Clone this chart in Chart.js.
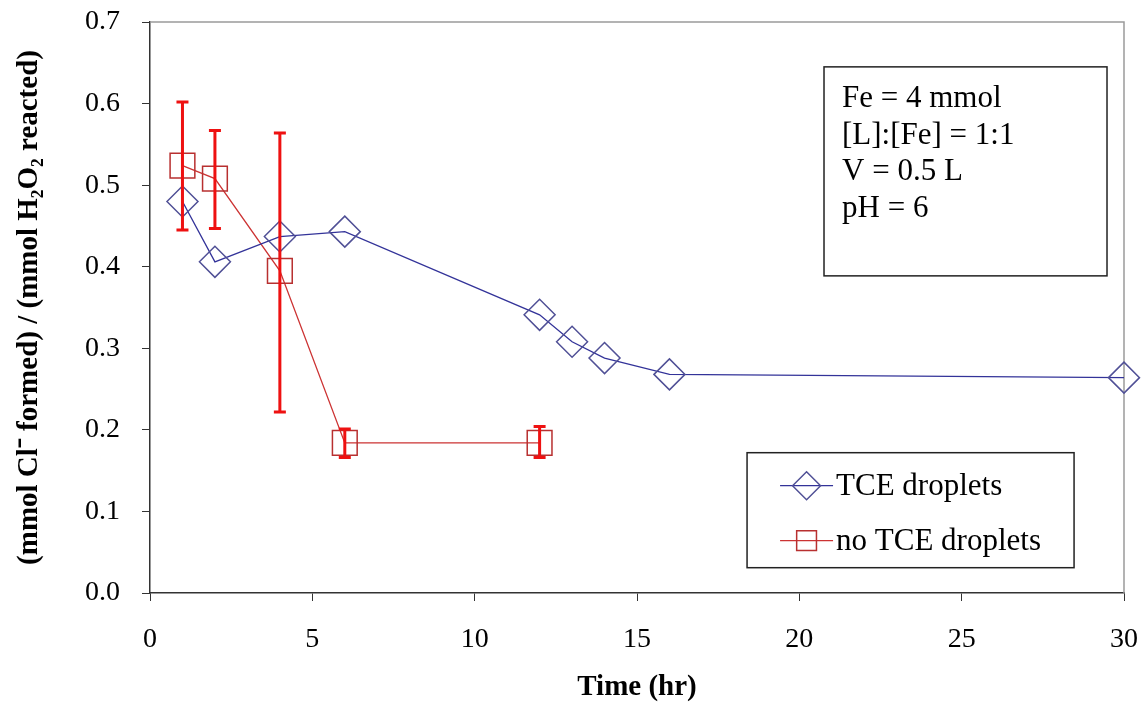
<!DOCTYPE html>
<html>
<head>
<meta charset="utf-8">
<script src="https://cdn.jsdelivr.net/npm/chart.js@4"></script>
<style>
  html, body { margin: 0; padding: 0; background: #fff; }
  #wrap { width: 1143px; height: 709px; }
</style>
</head>
<body>
<div id="wrap"><canvas id="chart" width="1143" height="709"></canvas></div>
<script>
const tceTime = [1, 2, 4, 6, 12, 13, 14, 16, 30];
const tceRatio = [0.480, 0.406, 0.437, 0.443, 0.341, 0.308, 0.288, 0.268, 0.264];

const noTceTime = [1, 2, 4, 6, 12];
const noTceRatio = [0.524, 0.508, 0.395, 0.184, 0.184];
const noTceLow = [0.445, 0.447, 0.222, 0.166, 0.166];
const noTceHigh = [0.602, 0.567, 0.564, 0.201, 0.204];

const seriesLabels = ["TCE droplets", "no TCE droplets"];
const noteLines = ["Fe = 4 mmol", "[L]:[Fe] = 1:1", "V = 0.5 L", "pH = 6"];

const serif = "'Liberation Serif', 'Times New Roman', serif";

function toPoints(xs, ys) {
  return xs.map((x, i) => ({ x: x, y: ys[i] }));
}

// gray frame on top and right of the plot area
const frame = {
  id: "frame",
  beforeDatasetsDraw(chart) {
    const { ctx, chartArea } = chart;
    ctx.save();
    ctx.strokeStyle = "#9a9a9a";
    ctx.lineWidth = 1.5;
    ctx.beginPath();
    ctx.moveTo(chartArea.left, chartArea.top);
    ctx.lineTo(chartArea.right, chartArea.top);
    ctx.lineTo(chartArea.right, chartArea.bottom);
    ctx.stroke();
    ctx.restore();
  },
};

// red error bars for the "no TCE" series
const errorBars = {
  id: "errorBars",
  afterDatasetsDraw(chart) {
    const { ctx, scales } = chart;
    ctx.save();
    ctx.strokeStyle = "#ee1111";
    ctx.lineWidth = 3;
    noTceTime.forEach((t, i) => {
      const x = scales.x.getPixelForValue(t);
      const yLo = scales.y.getPixelForValue(noTceLow[i]);
      const yHi = scales.y.getPixelForValue(noTceHigh[i]);
      ctx.beginPath();
      ctx.moveTo(x, yLo);
      ctx.lineTo(x, yHi);
      ctx.moveTo(x - 6, yLo);
      ctx.lineTo(x + 6, yLo);
      ctx.moveTo(x - 6, yHi);
      ctx.lineTo(x + 6, yHi);
      ctx.stroke();
    });
    ctx.restore();
  },
};

// legend box and the conditions box, both inside the plot area
const boxes = {
  id: "boxes",
  afterDraw(chart) {
    const { ctx, scales } = chart;
    ctx.save();
    ctx.strokeStyle = "#222";
    ctx.lineWidth = 1.5;

    // conditions box
    const nx = scales.x.getPixelForValue(20.76);
    const ny = scales.y.getPixelForValue(0.645);
    ctx.fillStyle = "#fff";
    ctx.fillRect(nx, ny, 283, 209);
    ctx.strokeRect(nx, ny, 283, 209);
    ctx.fillStyle = "#000";
    ctx.font = "31px " + serif;
    ctx.textBaseline = "alphabetic";
    noteLines.forEach((line, i) => {
      ctx.fillText(line, nx + 18, ny + 40 + i * 36.7);
    });

    // legend box
    const lx = scales.x.getPixelForValue(18.39);
    const ly = scales.y.getPixelForValue(0.172);
    ctx.fillStyle = "#fff";
    ctx.fillRect(lx, ly, 327, 115);
    ctx.strokeRect(lx, ly, 327, 115);
    ctx.textBaseline = "middle";
    chart.data.datasets.forEach((ds, i) => {
      const cy = ly + 33 + i * 55;
      const x0 = lx + 33;
      const x1 = lx + 86;
      ctx.strokeStyle = ds.borderColor;
      ctx.lineWidth = 1.3;
      ctx.beginPath();
      ctx.moveTo(x0, cy);
      ctx.lineTo(x1, cy);
      ctx.stroke();
      ctx.strokeStyle = ds.pointBorderColor;
      ctx.fillStyle = "rgba(0,0,0,0)";
      ctx.lineWidth = 1.5;
      Chart.helpers.drawPoint(ctx, {
        pointStyle: ds.pointStyle,
        radius: 14,
        borderWidth: 1.5,
      }, (x0 + x1) / 2, cy);
      ctx.fillStyle = "#000";
      ctx.font = "31px " + serif;
      ctx.fillText(ds.label, x1 + 3, cy + 1);
    });
    ctx.restore();
  },
};

new Chart(document.getElementById("chart"), {
  type: "scatter",
  data: {
    datasets: [
      {
        label: seriesLabels[0],
        data: toPoints(tceTime, tceRatio),
        showLine: true,
        clip: false,
        borderColor: "#333399",
        borderWidth: 1.3,
        pointStyle: "rectRot",
        pointRadius: 15.5,
        pointBorderColor: "#505096",
        pointBackgroundColor: "rgba(0,0,0,0)",
        pointBorderWidth: 1.5,
      },
      {
        label: seriesLabels[1],
        data: toPoints(noTceTime, noTceRatio),
        showLine: true,
        clip: false,
        borderColor: "#cc3333",
        borderWidth: 1.3,
        pointStyle: "rect",
        pointRadius: 17.5,
        pointBorderColor: "#b83030",
        pointBackgroundColor: "rgba(0,0,0,0)",
        pointBorderWidth: 1.5,
      },
    ],
  },
  options: {
    responsive: false,
    animation: false,
    layout: { padding: { top: 22, right: 19, left: 0, bottom: 0 } },
    plugins: {
      legend: { display: false },
      tooltip: { enabled: false },
    },
    scales: {
      x: {
        type: "linear",
        min: 0,
        max: 30,
        afterFit: (s) => {
          s.height = 116;
          s.paddingLeft = 0;
          s.paddingRight = 0;
        },
        border: { display: true, color: "#333", width: 1.5 },
        grid: { drawOnChartArea: false, drawTicks: true, tickLength: 8, color: "#333" },
        ticks: {
          stepSize: 5,
          padding: 22,
          color: "#000",
          font: { family: serif, size: 28 },
        },
        title: {
          display: true,
          text: "Time (hr)",
          color: "#000",
          padding: { top: 10, bottom: 4 },
          font: { family: serif, size: 29, weight: "bold" },
        },
      },
      y: {
        min: 0,
        max: 0.7,
        afterFit: (s) => {
          s.width = 150;
          s.paddingTop = 0;
          s.paddingBottom = 0;
        },
        border: { display: true, color: "#333", width: 1.5 },
        grid: { drawOnChartArea: false, drawTicks: true, tickLength: 8, color: "#333" },
        ticks: {
          stepSize: 0.1,
          padding: 22,
          color: "#000",
          font: { family: serif, size: 28 },
          callback: (v) => v.toFixed(1),
        },
        title: {
          display: true,
          text: "(mmol Cl\u207B formed) / (mmol H\u2082O\u2082 reacted)",
          color: "#000",
          padding: { bottom: 0, top: 12 },
          font: { family: serif, size: 29, weight: "bold" },
        },
      },
    },
  },
  plugins: [frame, errorBars, boxes],
});
</script>
</body>
</html>
